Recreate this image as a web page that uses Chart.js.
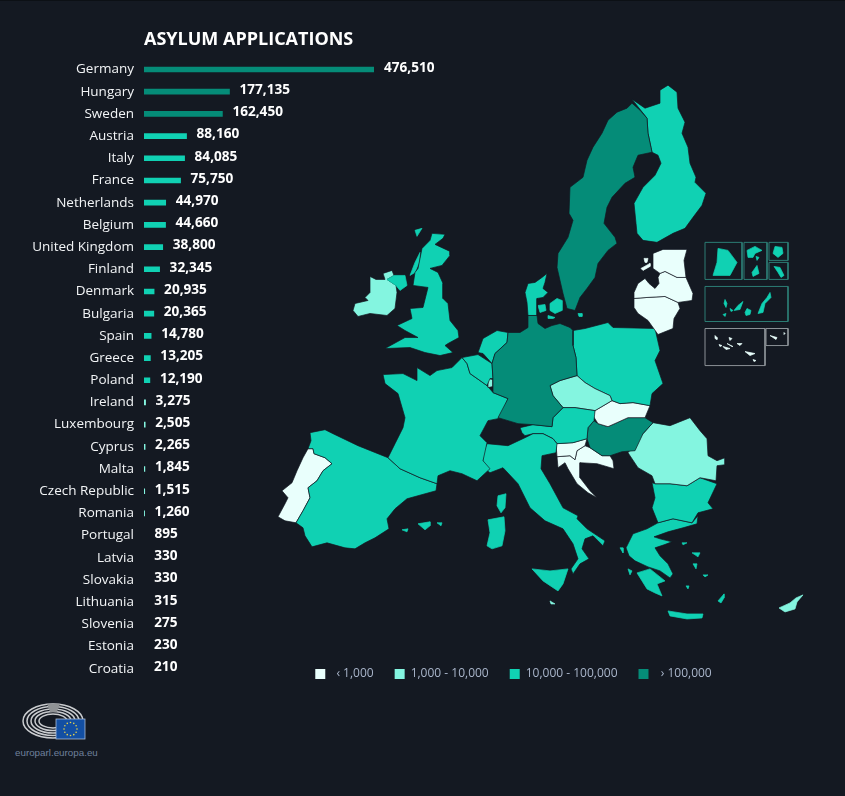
<!DOCTYPE html>
<html>
<head>
<meta charset="utf-8">
<script src="https://cdn.jsdelivr.net/npm/chart.js@4/dist/chart.umd.min.js"></script>
<style>
  html, body { margin: 0; padding: 0; background: #141922; }
  body { width: 845px; height: 796px; position: relative; overflow: hidden; }
  canvas { position: absolute; top: 0; }
  #barras { left: 0; }
  #mapa { left: 182px; }
  #topo { position: absolute; left: 0; top: 0; width: 845px; height: 1px; background: #0c1015; }
  #logo { position: absolute; left: 0; top: 695px; }
  #site { position: absolute; left: 15px; top: 747px; font: 9.8px "Liberation Sans", sans-serif; color: #6f809c; }
</style>
</head>
<body>
<div id="topo"></div>
<canvas id="barras" width="450" height="690"></canvas>
<canvas id="mapa" width="663" height="690"></canvas>
<svg id="logo" width="110" height="50" viewBox="0 695 110 50">
  <g id="arcos" fill="none" stroke="#c9cbce" stroke-width="1.5"></g>
  <polygon points="47,704 60,704 57,712 50,712" fill="#8f9295"/>
  <rect x="56" y="719" width="29" height="20" fill="#134fa3" stroke="#a9bcd8" stroke-width="0.8"/>
  <g id="estrelas" fill="#e8d44a"></g>
</svg>
<div id="site">europarl.europa.eu</div>

<script>
const countries = ["Germany", "Hungary", "Sweden", "Austria", "Italy", "France", "Netherlands", "Belgium", "United Kingdom", "Finland", "Denmark", "Bulgaria", "Spain", "Greece", "Poland", "Ireland", "Luxembourg", "Cyprus", "Malta", "Czech Republic", "Romania", "Portugal", "Latvia", "Slovakia", "Lithuania", "Slovenia", "Estonia", "Croatia"];
const applications = [476510, 177135, 162450, 88160, 84085, 75750, 44970, 44660, 38800, 32345, 20935, 20365, 14780, 13205, 12190, 3275, 2505, 2265, 1845, 1515, 1260, 895, 330, 330, 315, 275, 230, 210];

const classLabels = [" \u2009‹ 1,000", "1,000 - 10,000", "10,000 - 100,000", "  › 100,000"];
const classLimits = [1000, 10000, 100000];
const classColors = ["#e9fffc", "#84f5e0", "#10d1b3", "#058c78"];

// contornos, em unidades do mapa
const germany = [[528,315],[537,315],[538,323],[545,328],[552,325],[560,323],[570,327],[573,330],[573,345],[576,357],[577,375],[570,377],[560,380],[550,385],[553,395],[563,407],[553,417],[552,426],[533,424],[518,423],[498,417],[508,398],[493,392],[493,378],[492,363],[495,353],[507,342],[508,332],[520,332],[528,327]];
const sweden = [[632,103],[640,110],[647,118],[648,133],[652,152],[638,155],[633,167],[635,177],[625,183],[612,197],[607,207],[604,223],[615,237],[617,243],[608,250],[598,263],[595,277],[587,288],[580,297],[575,310],[567,308],[563,293],[557,267],[558,253],[568,237],[573,220],[569,213],[570,187],[583,177],[587,160],[593,147],[602,133],[608,120],[617,112],[627,108]];
const finland = [[632,99],[645,108],[660,103],[660,90],[668,85],[677,92],[678,108],[685,122],[682,133],[688,147],[690,163],[696,177],[695,182],[706,193],[702,205],[693,217],[685,228],[673,233],[657,242],[643,240],[637,233],[636,223],[634,203],[643,187],[655,175],[661,163],[658,155],[652,152],[648,133],[647,118]];
const estonia = [[653,253],[663,249],[687,249],[684,260],[686,277],[677,277],[665,271],[660,273],[653,268]];
const saaremaa = [[641,268],[650,263],[650,266],[643,270]];
const hiiumaa = [[644,258],[648,258],[647,262],[645,262]];
const latvia = [[660,273],[665,271],[677,277],[686,277],[693,293],[692,300],[678,302],[665,296],[647,297],[634,298],[634,292],[638,283],[645,278],[649,283],[655,288],[659,283],[658,277]];
const lithuania = [[634,298],[647,297],[665,296],[678,302],[680,308],[674,318],[673,328],[658,334],[648,320],[638,313],[634,307]];
const jutland = [[528,283],[535,282],[542,277],[547,273],[545,282],[543,288],[548,292],[543,297],[537,298],[537,307],[537,315],[528,315],[527,302],[525,292]];
const funen = [[538,305],[545,304],[546,310],[540,312]];
const zealand = [[550,303],[557,298],[562,300],[562,310],[555,313],[550,310]];
const lolland = [[548,315],[555,317],[553,318],[548,318]];
const bornholm = [[578,313],[582,313],[582,316],[579,316]];
const netherlands = [[478,352],[483,338],[497,330],[508,332],[507,342],[495,353],[492,363],[483,353]];
const belgium = [[462,357],[478,354],[492,363],[493,378],[490,378],[487,385],[480,380],[470,373],[467,363]];
const luxembourg = [[488,378],[493,379],[493,386],[488,387]];
const france = [[383,374],[403,373],[417,380],[417,367],[430,375],[437,370],[452,367],[462,357],[467,363],[470,373],[480,380],[487,385],[493,392],[508,398],[503,410],[498,418],[488,420],[480,435],[487,442],[483,460],[490,468],[477,480],[462,473],[450,470],[438,475],[437,483],[420,477],[400,468],[388,457],[395,443],[403,427],[405,417],[398,393],[385,383]];
const spain = [[310,432],[325,429],[333,433],[358,445],[388,457],[400,468],[420,477],[437,483],[436,490],[407,498],[395,508],[387,518],[389,528],[375,537],[365,542],[355,548],[345,547],[327,542],[312,546],[305,535],[303,527],[296,522],[303,510],[310,497],[308,487],[317,480],[323,470],[332,463],[325,457],[314,453],[313,448],[308,448],[311,440]];
const portugal = [[308,448],[313,448],[314,453],[325,457],[332,463],[323,470],[317,480],[308,487],[310,497],[303,510],[296,522],[285,520],[278,516],[285,503],[288,497],[282,490],[292,482],[297,470],[303,457]];
const mallorca = [[418,523],[430,521],[430,525],[425,529]];
const menorca = [[437,522],[442,522],[441,525]];
const ibiza = [[402,529],[408,528],[407,531]];
const corsica = [[498,495],[506,493],[505,507],[501,512],[497,505]];
const sardinia = [[488,519],[504,516],[505,530],[502,545],[492,548],[487,545],[490,532]];
const italy = [[487,443],[508,445],[525,437],[533,433],[543,433],[553,438],[557,443],[556,452],[542,455],[541,468],[550,483],[563,507],[578,515],[577,518],[587,528],[605,540],[603,545],[593,535],[585,538],[582,548],[589,558],[580,563],[573,573],[571,568],[578,558],[573,543],[563,528],[545,520],[530,507],[518,483],[503,467],[490,472],[483,467],[483,453]];
const sicily = [[532,568],[550,570],[568,568],[563,583],[558,590],[543,580]];
const malta = [[550,600],[555,603],[551,603]];
const austria = [[520,427],[533,424],[552,426],[553,417],[563,407],[575,407],[595,410],[594,420],[588,427],[587,438],[573,442],[557,443],[553,438],[543,433],[533,433],[525,435],[522,432]];
const czechRepublic = [[550,385],[560,380],[577,375],[585,382],[595,388],[610,395],[612,400],[595,410],[575,407],[563,407],[553,395]];
const poland = [[573,330],[585,328],[608,322],[613,327],[655,328],[660,350],[655,360],[663,383],[652,393],[650,405],[633,402],[620,403],[612,400],[610,395],[595,388],[585,382],[577,375],[576,357],[573,345]];
const slovakia = [[595,410],[612,400],[620,403],[633,402],[650,405],[645,417],[628,417],[617,422],[608,426],[598,423],[593,415]];
const hungary = [[588,427],[594,420],[598,423],[608,426],[617,422],[628,417],[645,417],[653,422],[643,433],[635,450],[622,451],[610,455],[602,455],[590,447],[587,438]];
const slovenia = [[556,443],[573,442],[587,438],[585,445],[577,450],[575,459],[570,455],[557,456]];
const croatia = [[585,445],[590,447],[602,455],[610,455],[613,460],[614,468],[597,463],[580,462],[580,477],[590,490],[597,497],[588,492],[577,483],[568,468],[565,462],[558,467],[557,456],[570,455],[575,459],[577,450]];
const romania = [[628,452],[643,433],[653,422],[670,425],[690,417],[700,430],[707,438],[708,455],[717,460],[725,457],[725,464],[717,465],[716,480],[700,477],[687,485],[670,483],[655,483],[652,475],[638,467]];
const bulgaria = [[652,482],[655,483],[670,483],[687,485],[700,477],[717,483],[708,502],[713,508],[698,512],[692,522],[673,518],[658,522],[652,507],[655,497]];
const greece = [[658,522],[673,518],[692,522],[698,515],[697,523],[683,527],[668,531],[654,536],[660,538],[672,541],[664,544],[655,547],[660,555],[668,563],[673,573],[670,577],[660,570],[648,566],[635,560],[629,555],[626,547],[633,533],[647,528]];
const peloponnese = [[637,572],[650,568],[665,580],[657,583],[662,595],[655,592],[647,588],[642,580]];
const crete = [[668,610],[687,613],[703,613],[702,617],[687,618],[670,615]];
const lesbos = [[692,552],[700,552],[698,556]];
const chios = [[693,563],[697,563],[696,568]];
const rhodes = [[718,600],[724,593],[724,597],[721,602]];
const corfu = [[620,547],[623,547],[623,552]];
const limnos = [[682,542],[687,542],[683,544]];
const kefalonia = [[628,568],[632,570],[630,574]];
const naxos = [[686,585],[689,585],[688,588]];
const samos = [[703,574],[708,574],[705,576]];
const cyprus = [[779,607],[790,602],[796,597],[803,594],[797,601],[795,608],[785,611]];
const britain = [[432,233],[445,234],[443,238],[435,244],[450,251],[450,255],[442,265],[430,268],[438,272],[443,283],[443,298],[448,303],[450,320],[458,330],[459,337],[448,343],[445,345],[453,352],[440,355],[425,352],[410,347],[385,348],[405,337],[418,337],[405,330],[397,325],[412,318],[410,308],[423,307],[428,287],[413,285],[415,272],[418,268],[422,248],[430,240]];
const northernIreland = [[387,279],[394,275],[405,275],[407,285],[400,290],[396,285]];
const hebrides = [[410,275],[415,262],[420,252],[419,262],[415,272]];
const skye = [[415,230],[422,228],[417,236]];
const ireland = [[370,276],[376,279],[385,279],[383,273],[392,270],[394,275],[387,279],[396,285],[397,292],[395,308],[387,315],[370,313],[358,316],[353,310],[355,303],[368,300],[365,297],[370,292]];
// ilhas e territórios das caixas à direita
const guiana = [[718,248],[728,250],[737,262],[730,275],[713,275],[717,262]];
const guadeloupe = [[747,250],[755,246],[762,250],[755,253],[753,257],[748,257]];
const marieGalante = [[756,256],[759,257],[757,260]];
const martinique = [[757,265],[759,273],[753,276],[752,272]];
const reunion = [[775,246],[782,247],[783,253],[778,257],[773,253]];
const mayotte = [[774,266],[780,267],[784,275],[781,277],[778,272]];
const fuerteventura = [[770,292],[771,297],[765,303],[763,312],[758,313],[762,303],[767,297]];
const granCanaria = [[747,308],[751,310],[750,314],[746,315],[745,312]];
const tenerife = [[743,301],[740,309],[734,310],[738,305]];
const gomera = [[730,308],[733,310],[731,311]];
const laPalma = [[725,299],[727,303],[726,307],[724,303]];
const hierro = [[723,314],[726,313],[725,316]];
const corvo = [[715,335],[717,337],[717,339],[715,338]];
const graciosa = [[729,337],[732,338],[730,340]];
const terceira = [[737,343],[742,343],[740,345]];
const faial = [[719,344],[722,345],[720,346]];
const pico = [[723,346],[730,348],[726,349]];
const saoJorge = [[727,343],[733,346],[732,346]];
const saoMiguel = [[745,351],[755,353],[750,355]];
const santaMaria = [[753,359],[756,360],[754,361]];
const madeira = [[770,335],[777,337],[776,339]];
const portoSanto = [[784,332],[785,333],[784,334]];
const boxGuiana = [[705,242],[742,242],[742,279],[705,279]];
const boxAntilles = [[744,242],[767,242],[767,279],[744,279]];
const boxReunion = [[769,242],[788,242],[788,260],[769,260]];
const boxMayotte = [[769,262],[788,262],[788,279],[769,279]];
const boxCanaries = [[705,286],[788,286],[788,321],[705,321]];
const boxAzores = [[705,328],[765,328],[765,365],[705,365]];
const boxMadeira = [[766,328],[788,328],[788,345],[766,345]];

const mapAreas = [
  ["Germany", [germany]], ["Sweden", [sweden]], ["Finland", [finland]],
  ["Estonia", [estonia, saaremaa, hiiumaa]], ["Latvia", [latvia]], ["Lithuania", [lithuania]],
  ["Denmark", [jutland, funen, zealand, lolland, bornholm]], ["Netherlands", [netherlands]],
  ["Belgium", [belgium]], ["Luxembourg", [luxembourg]],
  ["France", [france, corsica, guiana, guadeloupe, marieGalante, martinique, reunion, mayotte]],
  ["Spain", [spain, mallorca, menorca, ibiza, fuerteventura, granCanaria, tenerife, gomera, laPalma, hierro]],
  ["Portugal", [portugal, corvo, graciosa, terceira, faial, pico, saoJorge, saoMiguel, santaMaria, madeira, portoSanto]],
  ["Italy", [italy, sardinia, sicily]], ["Malta", [malta]], ["Austria", [austria]],
  ["Czech Republic", [czechRepublic]], ["Poland", [poland]], ["Slovakia", [slovakia]],
  ["Hungary", [hungary]], ["Slovenia", [slovenia]], ["Croatia", [croatia]],
  ["Romania", [romania]], ["Bulgaria", [bulgaria]],
  ["Greece", [greece, peloponnese, crete, lesbos, chios, rhodes, corfu, limnos, kefalonia, naxos, samos]],
  ["Cyprus", [cyprus]], ["United Kingdom", [britain, northernIreland, hebrides, skye]], ["Ireland", [ireland]],
];
const tealBoxes = [boxGuiana, boxAntilles, boxReunion, boxMayotte, boxCanaries];
const greyBoxes = [boxAzores, boxMadeira];
const mapBackground = "#141922";

function classOf(value) {
  let i = 0;
  while (i < classLimits.length && value >= classLimits[i]) i++;
  return classColors[i];
}

// escreve o valor ao lado de cada barra
const valueLabels = {
  id: "valueLabels",
  afterDatasetsDraw(chart) {
    const ctx = chart.ctx;
    ctx.save();
    ctx.font = "bold 13.6px 'Open Sans'";
    ctx.fillStyle = "#ffffff";
    ctx.textBaseline = "middle";
    chart.getDatasetMeta(0).data.forEach((bar, i) => {
      ctx.fillText(applications[i].toLocaleString("en-US"), bar.x + 10, bar.y - 1.5);
    });
    ctx.restore();
  },
};

new Chart(document.getElementById("barras"), {
  type: "bar",
  data: {
    labels: countries,
    datasets: [{
      data: applications,
      // abaixo de 1.000 a barra nem aparece no original
      backgroundColor: applications.map(v => v < classLimits[0] ? "transparent" : classOf(v)),
      barThickness: 5,
    }],
  },
  options: {
    indexAxis: "y",
    responsive: false,
    animation: false,
    layout: { padding: { right: 76, bottom: 4.6 } },
    scales: {
      x: { display: false, min: 0, max: 476510 },
      y: {
        grid: { display: false },
        border: { display: false },
        afterFit(axis) { axis.width = 144; },
        ticks: { color: "#f2f4f6", padding: 2, autoSkip: false, font: { family: "Open Sans", size: 13.5 } },
      },
    },
    plugins: {
      legend: { display: false },
      tooltip: { enabled: false },
      title: {
        display: true,
        text: "ASYLUM APPLICATIONS",
        align: "start",
        fullSize: false,
        color: "#ffffff",
        font: { family: "Open Sans", size: 18, weight: "bold" },
        padding: { top: 29.4, bottom: 7.4 },
      },
    },
  },
  plugins: [valueLabels],
});

function outlineDataset(points, fillColor, lineColor) {
  const closed = points.concat([points[0]]).map(([x, y]) => ({ x, y }));
  return {
    data: closed,
    showLine: true,
    fill: fillColor ? "shape" : false,
    backgroundColor: fillColor || "transparent",
    borderColor: lineColor,
    borderWidth: fillColor ? 0.7 : 1,
    pointRadius: 0,
    tension: 0,
  };
}

const mapDatasets = [];
mapAreas.forEach(([name, outlines]) => {
  const color = classOf(applications[countries.indexOf(name)]);
  outlines.forEach((points, i) => {
    // ilhas sem contorno escuro, senão somem
    const isIsland = i > 0 || name === "Malta" || name === "Cyprus";
    mapDatasets.push(outlineDataset(points, color, isIsland ? color : mapBackground));
  });
});
tealBoxes.forEach(points => mapDatasets.push(outlineDataset(points, null, "#2c7d74")));
greyBoxes.forEach(points => mapDatasets.push(outlineDataset(points, null, "#8b9196")));

new Chart(document.getElementById("mapa"), {
  type: "scatter",
  data: { datasets: mapDatasets },
  options: {
    responsive: false,
    animation: false,
    scales: {
      x: { display: false, min: 182, max: 845 },
      y: { display: false, min: 0, max: 646, reverse: true },
    },
    plugins: {
      tooltip: { enabled: false },
      legend: {
        position: "bottom",
        labels: {
          boxWidth: 10,
          boxHeight: 10,
          padding: 21,
          font: { family: "Open Sans", size: 12 },
          generateLabels: () => classLabels.map((text, i) => ({
            text,
            fillStyle: classColors[i],
            strokeStyle: classColors[i],
            lineWidth: 0,
            fontColor: "#a9b5ca",
          })),
        },
      },
    },
  },
});

// logotipo: hemiciclo e estrelas da bandeira
const NS = "http://www.w3.org/2000/svg";
const radii = [[30, 17], [26, 14.5], [22, 12], [18, 9.5], [14, 7]];
radii.forEach(([rx, ry]) => {
  const e = document.createElementNS(NS, "ellipse");
  e.setAttribute("cx", 53); e.setAttribute("cy", 721);
  e.setAttribute("rx", rx); e.setAttribute("ry", ry);
  document.getElementById("arcos").appendChild(e);
});
for (let i = 0; i < 12; i++) {
  const c = document.createElementNS(NS, "circle");
  c.setAttribute("cx", 70.5 + 6.5 * Math.cos(i * Math.PI / 6));
  c.setAttribute("cy", 729 + 6.5 * Math.sin(i * Math.PI / 6));
  c.setAttribute("r", 0.8);
  document.getElementById("estrelas").appendChild(c);
}
</script>
</body>
</html>
